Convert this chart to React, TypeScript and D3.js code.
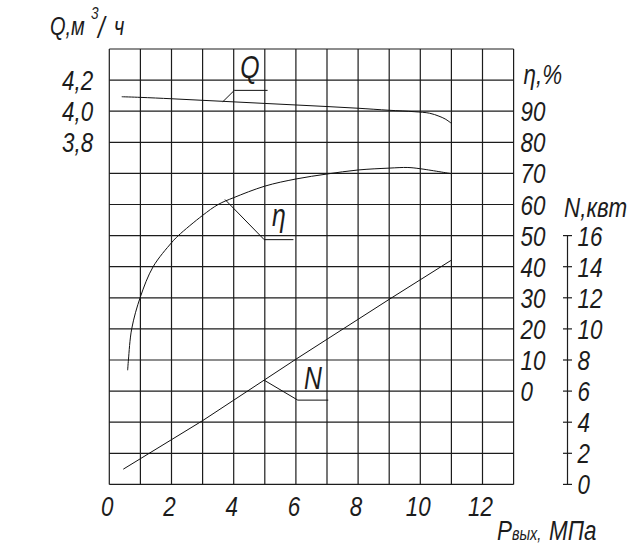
import React from "react";
import * as d3 from "d3";

// pressure (MPa) grid and tick labels
const xTicks = [0, 2, 4, 6, 8, 10, 12];
const qTicks = [4.2, 4.0, 3.8];
const etaTicks = [90, 80, 70, 60, 50, 40, 30, 20, 10, 0];
const nTicks = [0, 2, 4, 6, 8, 10, 12, 14, 16];

// Q, m3/h
const qP = [0.4, 1, 2, 3, 4, 5, 6, 7, 8, 9, 9.8, 10.3, 10.6, 10.8, 11];
const qV = [4.093, 4.089, 4.08, 4.07, 4.06, 4.05, 4.04, 4.03, 4.019, 4.006, 3.997, 3.987, 3.968, 3.95, 3.922];

// efficiency, %
const etaP = [0.59, 0.615, 0.72, 1.0, 1.41, 2, 2.22, 3, 3.5, 4, 5, 6, 7, 8, 9, 9.6, 10, 11];
const etaV = [6.7, 10, 20, 30.3, 40, 47.7, 50, 56.5, 60, 62.2, 65.9, 68.2, 69.8, 71.1, 71.7, 71.9, 71.5, 69.9];

// power, kW
const nP = [0.45, 3, 6, 9, 11];
const nV = [0.98, 4.1, 8.05, 11.9, 14.42];

const W = 643;
const H = 557;
const left = 109.3;
const top = 49;
const cell = 31.1;
const cols = 13;
const rows = 14;
const right = left + cols * cell;
const bottom = top + rows * cell;

const FONT = "'Liberation Sans', Arimo, sans-serif";
const INK = "#1c1c1c";

// narrow italic label, like the drafting font of the original
function T({
  x,
  y,
  size = 28,
  anchor = "start",
  sx = 0.8,
  children,
}: {
  x: number;
  y: number;
  size?: number;
  anchor?: string;
  sx?: number;
  children: React.ReactNode;
}) {
  return (
    <text
      transform={`translate(${x},${y}) scale(${sx},1)`}
      fontSize={size}
      textAnchor={anchor}
    >
      {children}
    </text>
  );
}

export default function App() {
  const x = d3.scaleLinear().domain([0, cols]).range([left, right]);
  const yQ = d3.scaleLinear().domain([4.4 - rows * 0.2, 4.4]).range([bottom, top]);
  const yEta = d3.scaleLinear().domain([110 - rows * 10, 110]).range([bottom, top]);
  const yN = d3.scaleLinear().domain([0, rows * 2]).range([bottom, top]);

  const smooth = (ys: d3.ScaleLinear<number, number>) =>
    d3
      .line<[number, number]>()
      .x((d) => x(d[0]))
      .y((d) => ys(d[1]))
      .curve(d3.curveCatmullRom.alpha(0.5));

  const qPath = smooth(yQ)(qP.map((p, i) => [p, qV[i]]) as [number, number][]);
  const etaPath = smooth(yEta)(etaP.map((p, i) => [p, etaV[i]]) as [number, number][]);
  const nPath = d3
    .line<[number, number]>()
    .x((d) => x(d[0]))
    .y((d) => yN(d[1]))(nP.map((p, i) => [p, nV[i]]) as [number, number][]);

  const vLines = d3.range(0, cols + 1);
  const hLines = d3.range(0, rows * 2 + 1, 2);

  // leader lines: curve point -> elbow -> end of shelf
  const qLead = [
    [x(3.65), yQ(4.061)],
    [x(4.02), yQ(4.134)],
    [x(5.09), yQ(4.134)],
  ];
  const etaLead = [
    [x(3.72), yEta(61.6)],
    [x(4.98), yEta(48.7)],
    [x(5.92), yEta(48.7)],
  ];
  const nLead = [
    [x(4.98), yN(6.7)],
    [x(6.06), yN(5.42)],
    [x(7.04), yN(5.42)],
  ];
  const poly = (pts: number[][]) => pts.map((p) => p.join(",")).join(" ");

  const nAxisX = 567.5;

  return (
    <svg
      width={W}
      height={H}
      style={{ position: "absolute", left: 0, top: 0, background: "#fff" }}
      fontFamily={FONT}
      fontStyle="italic"
      fill={INK}
    >
      {/* grid */}
      <g stroke={INK} strokeWidth={1.2}>
        {vLines.map((v) => (
          <line key={"v" + v} x1={x(v)} x2={x(v)} y1={top} y2={bottom} />
        ))}
        {hLines.map((v) => (
          <line key={"h" + v} x1={left} x2={right} y1={yN(v)} y2={yN(v)} />
        ))}
      </g>

      {/* curves */}
      <g fill="none" stroke="#111" strokeWidth={1}>
        <path d={qPath || ""} />
        <path d={etaPath || ""} />
        <path d={nPath || ""} />
        <polyline points={poly(qLead)} />
        <polyline points={poly(etaLead)} />
        <polyline points={poly(nLead)} />
      </g>

      {/* curve labels */}
      <T x={x(4.52)} y={yQ(4.215)} size={31} anchor="middle">
        Q
      </T>
      <T x={x(5.45)} y={yEta(53.2)} size={31} anchor="middle">
        η
      </T>
      <T x={x(6.55)} y={yN(6.13)} size={31} anchor="middle">
        N
      </T>

      {/* x axis labels */}
      {xTicks.map((t) => (
        <T key={"x" + t} x={x(t) - 2} y={bottom + 32} anchor="middle">
          {t}
        </T>
      ))}
      <T x={497} y={540}>
        P
      </T>
      <T x={512} y={540} size={18}>
        вых,
      </T>
      <T x={549} y={540}>
        МПа
      </T>

      {/* Q axis */}
      {qTicks.map((t) => (
        <T key={"q" + t} x={62} y={yQ(t) + 10}>
          {t.toFixed(1).replace(".", ",")}
        </T>
      ))}
      <T x={50} y={35} size={25}>
        Q,м
      </T>
      <T x={91} y={19} size={17}>
        3
      </T>
      <T x={98} y={38} size={30}>
        /
      </T>
      <T x={114} y={35} size={25}>
        ч
      </T>

      {/* eta axis */}
      {etaTicks.map((t) => (
        <T key={"e" + t} x={right + 7} y={yEta(t) + 10}>
          {t}
        </T>
      ))}
      <T x={right + 10} y={84}>
        η,%
      </T>

      {/* N axis */}
      <g stroke={INK} strokeWidth={1.2}>
        <line x1={nAxisX} x2={nAxisX} y1={yN(16)} y2={yN(0)} />
        {nTicks.map((t) => (
          <line key={"nt" + t} x1={nAxisX - 4.5} x2={nAxisX + 4.5} y1={yN(t)} y2={yN(t)} />
        ))}
      </g>
      {nTicks.map((t) => (
        <T key={"n" + t} x={nAxisX + 10} y={yN(t) + 10}>
          {t}
        </T>
      ))}
      <T x={564} y={217}>
        N,квт
      </T>
    </svg>
  );
}
